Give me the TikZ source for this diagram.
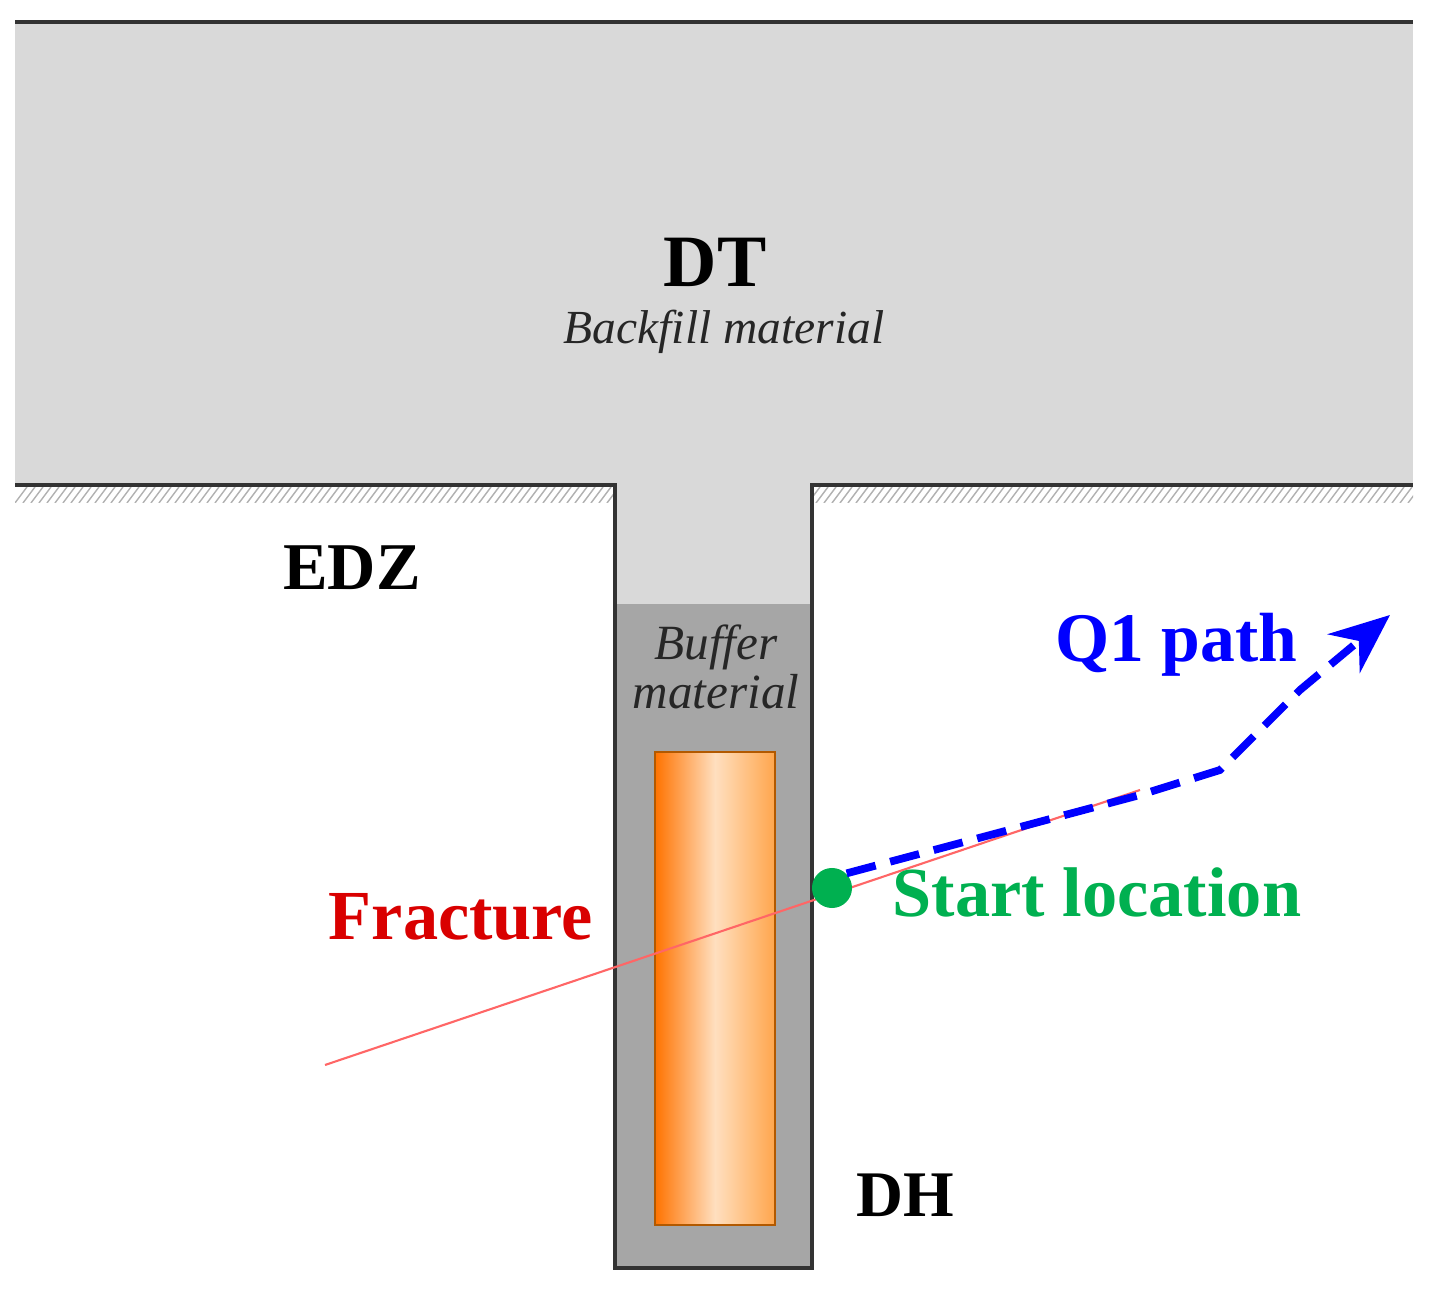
\documentclass[tikz,border=0pt]{standalone}
\usepackage{fontspec}
\setmainfont{Liberation Serif}
\usetikzlibrary{arrows.meta}
\definecolor{sgreen}{RGB}{0,176,80}
\begin{document}
\begin{tikzpicture}[x=0.01cm,y=-0.01cm,
  lbl/.style={font=\bfseries\fontsize{19}{22}\selectfont, inner sep=0},
  ital/.style={font=\itshape\fontsize{13.5}{15}\selectfont, inner sep=0, text=black!85}]
\useasboundingbox (0,0) rectangle (1442,1289);
% DT
\fill[gray!30] (15,22) rectangle (1413,485);
\fill[gray!30] (615,485) rectangle (812,604);
\fill[black!35] (615,604) rectangle (812,1268);
\draw[line width=1.2pt,black!80] (15,22) -- (1413,22);
% hatching
\begin{scope}
\clip (15,487) rectangle (615,503);
\foreach \i in {0,8,...,620} \draw[gray!60,line width=0.4pt] (15+\i,503) -- (27+\i,487);
\end{scope}
\begin{scope}
\clip (812,487) rectangle (1413,503);
\foreach \i in {0,8,...,620} \draw[gray!60,line width=0.4pt] (800+\i,503) -- (812+\i,487);
\end{scope}
\draw[line width=1.2pt,black!80] (15,485) -- (615,485) -- (615,1268) -- (812,1268) -- (812,485) -- (1413,485);
% canister
\shade[left color=orange!90!red, right color=orange!70!white, middle color=orange!25!white] (655,752) rectangle (775,1225);
\draw[line width=0.8pt,orange!70!black] (655,752) rectangle (775,1225);
% fracture
\coordinate (f1) at (325,1065);
\coordinate (f2) at (1140,790);
\draw[red!60,line width=0.6pt] (f1) -- (f2);
% path
\node[circle,fill=sgreen,minimum size=40*0.1mm,inner sep=0] (s) at (832,888) {};
\coordinate (p1) at (1220,770);
\coordinate (p2) at (1390,615);
\draw[blue,line width=2.2pt,dash pattern=on 30*0.1mm off 15*0.1mm,-{Stealth[length=6mm,width=5mm]}]
  (s.north east) -- (1140,795) -- (p1) -- (1300,690) -- (p2);
% labels
\node[lbl,font=\bfseries\fontsize{21}{24}\selectfont] (dt) at (715,262) {DT};
\node[ital] (bf) at (724,332) {Backfill material};
\node[lbl] (edz) at (352,568) {EDZ};
\node[ital,align=center,font=\itshape\fontsize{14}{15}\selectfont] (buf) at (716,667) {Buffer\\[-1pt]material};
\node[lbl,text=blue,font=\bfseries\fontsize{19.8}{22}\selectfont] (q1) at (1176,645) {Q1 path};
\node[lbl,text=sgreen,font=\bfseries\fontsize{20}{22}\selectfont] (st) at (1097,892) {Start location};
\node[lbl,text=red!85!black,font=\bfseries\fontsize{20}{22}\selectfont] (fr) at (461,917) {Fracture};
\node[lbl,font=\bfseries\fontsize{18.5}{22}\selectfont] (dh) at (905,1195) {DH};
\end{tikzpicture}
\end{document}
